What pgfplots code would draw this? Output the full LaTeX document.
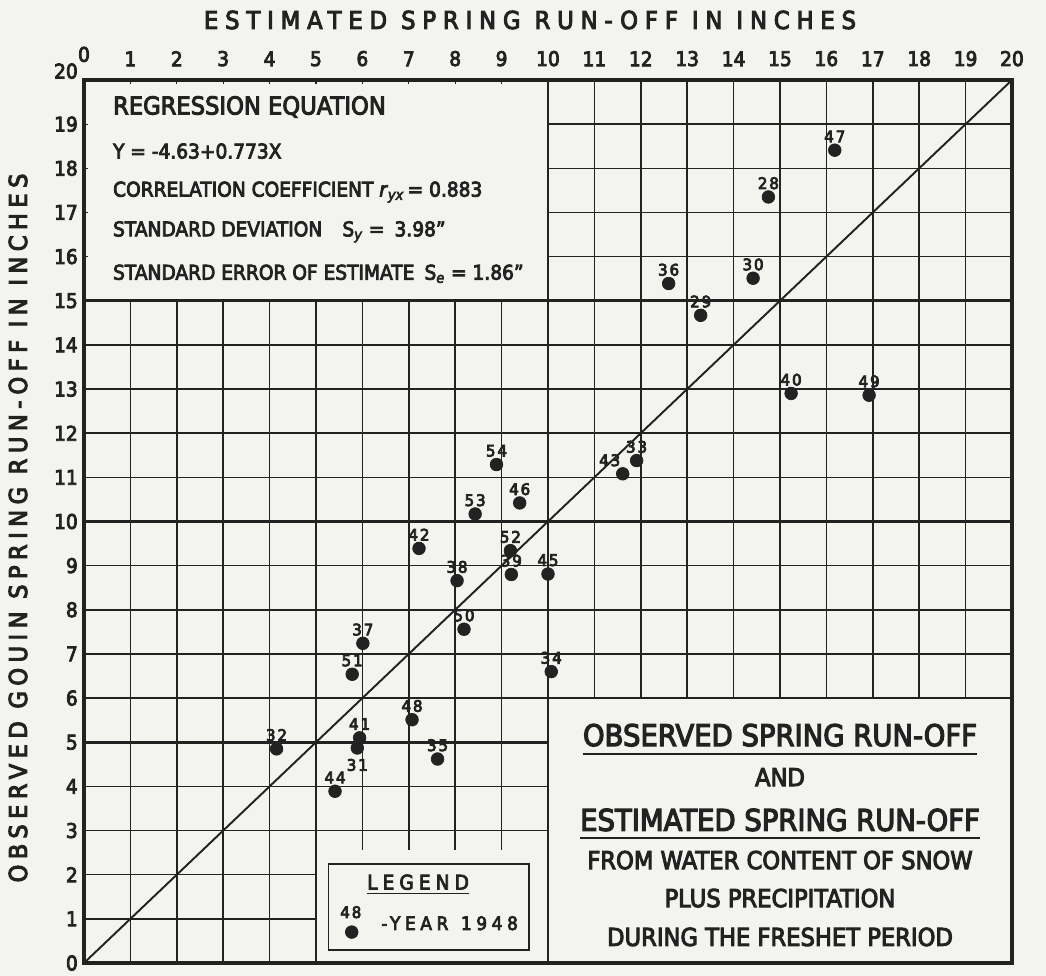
\documentclass[border=0pt]{standalone}
\usepackage{pgfplots}
\usepackage{pgfplotstable}
\pgfplotsset{compat=1.18}
\usepackage{fontspec}
\setmainfont{DejaVu Sans}[FakeStretch=0.92,FakeBold=4]
\newfontfamily\titlefont{DejaVu Sans}[FakeStretch=0.92,FakeBold=4,LetterSpace=28]
\newfontfamily\ylabfont{DejaVu Sans}[FakeStretch=0.92,FakeBold=4,LetterSpace=22]
\newfontfamily\legfont{DejaVu Sans}[FakeStretch=0.92,FakeBold=4,LetterSpace=25]
\newfontfamily\numfont{DejaVu Sans}[FakeStretch=0.95,FakeBold=5,LetterSpace=12]
\definecolor{paper}{RGB}{243,243,240}
\definecolor{ink}{RGB}{34,34,34}
% labels above the dots
\pgfplotstableread{
x y lab
16.18 18.41 47
14.75 17.35 28
12.60 15.39 36
14.42 15.51 30
13.29 14.67 29
15.24 12.90 40
16.92 12.86 49
11.91 11.38 33
8.89 11.29 54
9.39 10.42 46
8.43 10.17 53
7.22 9.39 42
9.19 9.34 52
9.21 8.80 39
8.04 8.66 38
8.19 7.56 50
6.01 7.24 37
5.78 6.54 51
10.00 8.81 45
10.07 6.60 34
7.07 5.51 48
5.94 5.10 41
4.15 4.85 32
7.62 4.62 35
5.41 3.89 44
}\above
% label below the dot
\pgfplotstableread{
x y lab
5.89 4.87 31
}\below
% label up and to the left
\pgfplotstableread{
x y lab
11.61 11.08 43
}\upleft
\begin{document}
\begin{tikzpicture}
\fill[paper] (-16.8mm,-2.6mm) rectangle (192.4mm,192.6mm);
\useasboundingbox (-16.8mm,-2.6mm) rectangle (192.4mm,192.6mm);
\begin{axis}[
  at={(0,0)}, anchor=south west,
  scale only axis, width=185.6mm, height=176.6mm,
  xmin=0, xmax=20, ymin=0, ymax=20,
  xtick={0,...,20}, ytick={0,...,20},
  xticklabel pos=upper,
  xticklabels={\raisebox{0.9mm}{0},1,2,3,4,5,6,7,8,9,10,11,12,13,14,15,16,17,18,19,20},
  yticklabels={0,1,2,3,4,5,6,7,8,9,10,11,12,13,14,15,16,17,18,19,\raisebox{0.3mm}[0pt][0pt]{20}},
  /pgf/number format/assume math mode=true,
  ticklabel style={font=\fontsize{11.5}{12}\selectfont, text=ink},
  xticklabel style={yshift=1.5mm},
  grid=major,
  major grid style={draw=ink, line width=0.85pt},
  major tick length=0.9mm,
  tick style={draw=ink, line width=0.7pt},
  axis line style={draw=ink, line width=1.8pt},
  clip=false,
  yearlabel/.style={only marks, mark=*, mark size=3.6pt, ink, mark options={fill=ink, draw=ink},
    nodes near coords, point meta=explicit symbolic,
    every node near coord/.append style={anchor=center, font=\numfont\fontsize{9}{10}\selectfont, text=ink, inner sep=0pt}},
]
% blank regions for the text boxes
\fill[paper] (axis cs:0,15) rectangle (axis cs:10,20);
\fill[paper] (axis cs:10,0) rectangle (axis cs:20,6);
\fill[paper] (axis cs:5,0) rectangle (axis cs:10,2.55);
% small ticks inside the upper-left box
\pgfplotsinvokeforeach{1,...,9}{\draw[ink, line width=0.7pt] (axis cs:#1,20) -- ++(0,-0.9mm);}
\pgfplotsinvokeforeach{16,...,19}{\draw[ink, line width=0.7pt] (axis cs:0,#1) -- ++(0.9mm,0);}
% heavier lines every 5 units and box borders
\begin{scope}[ink, line width=1.5pt]
\draw (axis cs:0,15) -- (axis cs:20,15);
\draw (axis cs:0,10) -- (axis cs:20,10);
\draw (axis cs:0,5) -- (axis cs:10,5);
\draw (axis cs:5,0) -- (axis cs:5,15);
\draw (axis cs:10,0) -- (axis cs:10,20);
\draw (axis cs:15,6) -- (axis cs:15,20);
\draw (axis cs:10,6) -- (axis cs:20,6);
\end{scope}
\draw[ink, line width=1.8pt] (rel axis cs:0,0) rectangle (rel axis cs:1,1);
% 1:1 line
\addplot[ink, line width=1.1pt, no marks] coordinates {(0,0) (20,20)};
% observations
\addplot[yearlabel, every node near coord/.append style={yshift=2.75mm}] table[x=x, y=y, meta=lab] {\above};
\addplot[yearlabel, every node near coord/.append style={yshift=-3.4mm}] table[x=x, y=y, meta=lab] {\below};
\addplot[yearlabel, every node near coord/.append style={xshift=-2.6mm, yshift=2.7mm}] table[x=x, y=y, meta=lab] {\upleft};
% legend
\draw[ink, line width=0.9pt] (axis cs:5.27,0.29) rectangle (axis cs:9.59,2.24);
\node[inner sep=0pt, font=\legfont\fontsize{11.5}{12}\selectfont, text=ink] (lg) at (axis cs:7.2,1.83) {LEGEND};
\draw[ink, line width=0.8pt] ([yshift=-0.8mm]lg.base west) -- ([yshift=-0.8mm]lg.base east);
\node[inner sep=0pt, font=\numfont\fontsize{9}{10}\selectfont, text=ink] at (axis cs:5.75,1.15) {48};
\node[inner sep=0pt, font=\legfont\fontsize{10.5}{11}\selectfont, text=ink] at (axis cs:7.88,0.9) {-YEAR\hspace{2.5mm}1948};
\addplot[only marks, mark=*, mark size=3.6pt, ink, mark options={fill=ink, draw=ink}] coordinates {(5.77,0.70)};
% regression box
\node[anchor=west, inner sep=0pt, font=\fontsize{14}{16}\selectfont, text=ink] at (axis cs:0.62,19.39) {REGRESSION EQUATION};
\node[anchor=west, inner sep=0pt, font=\fontsize{11.5}{13}\selectfont, text=ink] at (axis cs:0.62,18.39) {Y = -4.63+0.773X};
\node[anchor=west, inner sep=0pt, font=\fontsize{11.5}{13}\selectfont, text=ink] at (axis cs:0.62,17.46) {CORRELATION COEFFICIENT \textit{r}\textsubscript{\textit{yx}}\,= 0.883};
\node[anchor=west, inner sep=0pt, font=\fontsize{11.5}{13}\selectfont, text=ink] at (axis cs:0.62,16.56) {STANDARD DEVIATION\quad S\textsubscript{\textit{y}} =\enspace 3.98"};
\node[anchor=west, inner sep=0pt, font=\fontsize{11.5}{13}\selectfont, text=ink] at (axis cs:0.62,15.61) {STANDARD ERROR OF ESTIMATE\enspace S\textsubscript{\textit{e}} = 1.86"};
% lower-right title box
\node[inner sep=0pt, font=\fontsize{17}{18}\selectfont, text=ink] (t1) at (axis cs:15,5.16) {OBSERVED SPRING RUN-OFF};
\draw[ink, line width=1.1pt] ([yshift=-1.6mm]t1.base west) -- ([yshift=-1.6mm]t1.base east);
\node[inner sep=0pt, font=\fontsize{14}{15}\selectfont, text=ink] at (axis cs:15,4.21) {AND};
\node[inner sep=0pt, font=\fontsize{17}{18}\selectfont, text=ink] (t2) at (axis cs:15,3.24) {ESTIMATED SPRING RUN-OFF};
\draw[ink, line width=1.1pt] ([yshift=-1.4mm]t2.base west) -- ([yshift=-1.4mm]t2.base east);
\node[inner sep=0pt, font=\fontsize{14}{15}\selectfont, text=ink] at (axis cs:15,2.33) {FROM WATER CONTENT OF SNOW};
\node[inner sep=0pt, font=\fontsize{14}{15}\selectfont, text=ink] at (axis cs:15,1.47) {PLUS PRECIPITATION};
\node[inner sep=0pt, font=\fontsize{14}{15}\selectfont, text=ink] at (axis cs:15,0.59) {DURING THE FRESHET PERIOD};
\end{axis}
\node[font=\titlefont\fontsize{14}{15}\selectfont, text=ink, inner sep=0pt] at (89.2mm,188.6mm) {ESTIMATED SPRING RUN-OFF IN INCHES};
\node[font=\ylabfont\fontsize{14}{15}\selectfont, text=ink, inner sep=0pt, rotate=90] at (-13.2mm,87mm) {OBSERVED GOUIN SPRING RUN-OFF IN INCHES};
\end{tikzpicture}
\end{document}
